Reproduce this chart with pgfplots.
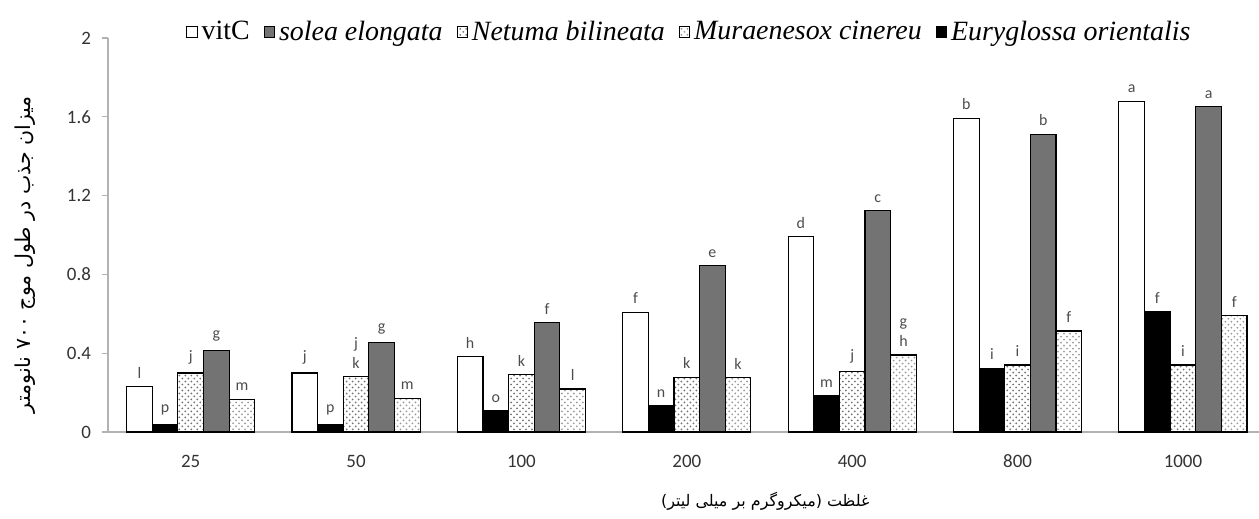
\documentclass[border=0pt]{standalone}
\usepackage{fontspec}
\setmainfont{Liberation Serif}
\newfontfamily\tickfont{Carlito}
\newfontfamily\arabicfont[Script=Arabic]{DejaVu Sans}
\TeXXeTstate=1
\usepackage{pgfplots}
\pgfplotsset{compat=1.18}
\usetikzlibrary{patterns}
\begin{document}
\begin{tikzpicture}
\path[use as bounding box] (-54bp,-43.5bp) rectangle (575.5bp,216bp);
\begin{axis}[
  at={(0,0)}, anchor=south west,
  scale only axis, width=575.5bp, height=197bp,
  xmin=-0.5, xmax=6.46, ymin=0, ymax=2,
  ybar, bar width=0.155,
  axis x line=bottom, axis y line=left,
  axis line style={-, draw=gray!60, line width=0.6bp},
  xtick={0,1,2,3,4,5,6},
  xticklabels={25,50,100,200,400,800,1000},
  xtick style={draw=none},
  ytick={0,0.4,0.8,1.2,1.6,2},
  yticklabels={0,0.4,0.8,1.2,1.6,2},
  ytick style={draw=gray!60, line width=0.6bp},
  tick align=outside, major tick length=3bp,
  /pgf/number format/assume math mode=true,
  ticklabel style={font=\tickfont\fontsize{9.5}{11}\selectfont, text=black!80},
  xticklabel style={yshift=-5bp},
  yticklabel style={xshift=-2bp},
  xlabel={\arabicfont\fontsize{8}{10}\selectfont\beginR غلظت (میکروگرم بر میلی لیتر)\endR},
  xlabel style={at={(axis description cs:0.571,0)}, anchor=center, yshift=-34.5bp},
  ylabel={\arabicfont\fontsize{10.3}{12}\selectfont\beginR میزان جذب در طول موج \beginL۷۰۰\endL{} نانومتر\endR},
  ylabel style={at={(axis description cs:-0.072,0.45)}, anchor=center},
  legend style={at={(0.506,1.015)}, anchor=center, draw=none, fill=none,
     font=\fontsize{14}{16}\selectfont, legend columns=5,
     /tikz/every even column/.append style={column sep=5bp}},
  legend image code/.code={\draw[#1,line width=0.5bp] (0bp,-2.6bp) rectangle (5.2bp,2.6bp);},
  nodes near coords, point meta=explicit symbolic,
  every node near coord/.append style={font=\tickfont\fontsize{8}{8.5}\selectfont, text=black!70, anchor=south, yshift=2.5bp, align=center, inner sep=1.5bp},
  clip=false,
]
% vitC
\addplot[bar shift=-0.31, fill=white, draw=black, line width=0.6bp] coordinates {
(0,0.23) [l] (1,0.30) [j] (2,0.382) [h] (3,0.608) [f] (4,0.991) [d] (5,1.592) [b] (6,1.677) [a]};
% solea elongata
\addplot[bar shift=0.155, fill=black!55, draw=black, line width=0.6bp] coordinates {
(0,0.415) [g] (1,0.455) [g] (2,0.555) [f] (3,0.844) [e] (4,1.123) [c] (5,1.511) [b] (6,1.651) [a]};
% Netuma bilineata
\addplot[bar shift=0, pattern=crosshatch dots, pattern color=black!55, draw=black, line width=0.6bp] coordinates {
(0,0.30) [j] (1,0.28) [\shortstack{j\\k}] (2,0.29) [k] (3,0.278) [k] (4,0.306) [j] (5,0.34) [i] (6,0.34) [i]};
% Muraenesox cinereu
\addplot[bar shift=0.31, pattern=crosshatch dots, pattern color=black!40, draw=black, line width=0.6bp] coordinates {
(0,0.165) [m] (1,0.17) [m] (2,0.218) [l] (3,0.276) [k] (4,0.391) [\shortstack{g\\h}] (5,0.513) [f] (6,0.59) [f]};
% Euryglossa orientalis
\addplot[bar shift=-0.155, fill=black, draw=black, line width=0.6bp] coordinates {
(0,0.04) [p] (1,0.04) [p] (2,0.108) [o] (3,0.132) [n] (4,0.183) [m] (5,0.323) [i] (6,0.611) [f]};
\legend{vitC, \textit{solea elongata}, \textit{Netuma bilineata}, \textit{Muraenesox cinereu}, \textit{Euryglossa orientalis}}
\end{axis}
\end{tikzpicture}
\end{document}
